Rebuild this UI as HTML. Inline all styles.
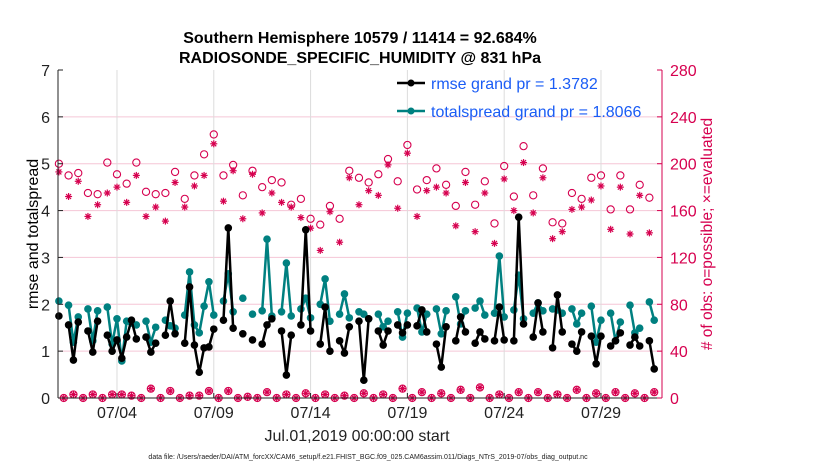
<!DOCTYPE html>
<html><head><meta charset="utf-8">
<style>
body{margin:0;background:#fff;}
svg{display:block;font-family:"Liberation Sans",Arial,sans-serif;}
</style></head>
<body>
<svg id="chart" width="830" height="470" viewBox="0 0 830 470" xmlns="http://www.w3.org/2000/svg">
<rect x="0" y="0" width="830" height="470" fill="#fff"/>
<text x="360" y="43" text-anchor="middle" font-size="16" font-weight="bold">Southern Hemisphere 10579 / 11414 = 92.684%</text>
<text x="360" y="63" text-anchor="middle" font-size="16" font-weight="bold">RADIOSONDE_SPECIFIC_HUMIDITY @ 831 hPa</text>
<g id="grid"></g>
<g id="marks"></g>
<g id="axes"></g>
<text transform="translate(38,234) rotate(-90)" text-anchor="middle" font-size="16">rmse and totalspread</text>
<text transform="translate(712,234) rotate(-90)" text-anchor="middle" font-size="15.5" fill="#d6004f"># of obs: o=possible; ×=evaluated</text>
<text x="357" y="441" text-anchor="middle" font-size="16" fill="#222">Jul.01,2019 00:00:00 start</text>
<text x="368" y="459" text-anchor="middle" font-size="7" fill="#222">data file: /Users/raeder/DAI/ATM_forcXX/CAM6_setup/f.e21.FHIST_BGC.f09_025.CAM6assim.011/Diags_NTrS_2019-07/obs_diag_output.nc</text>
<g id="legend">
<line x1="397" y1="83" x2="425" y2="83" stroke="#000" stroke-width="2.5"/>
<circle cx="411" cy="83" r="3.5" fill="#000"/>
<text x="431" y="89" font-size="16" fill="#1a5cf5">rmse grand pr = 1.3782</text>
<line x1="397" y1="111" x2="425" y2="111" stroke="#008080" stroke-width="2.5"/>
<circle cx="411" cy="111" r="3.5" fill="#008080"/>
<text x="431" y="117" font-size="16" fill="#1a5cf5">totalspread grand pr = 1.8066</text>
</g>
</svg>
<script>
// 6-hourly bins starting Jul 01 00Z
const rmse = [1.75,null,1.56,0.81,1.62,null,1.43,0.98,1.64,null,1.34,1.00,1.24,0.85,1.30,1.66,1.26,null,1.30,0.98,1.17,null,1.34,2.07,1.37,null,1.17,2.37,1.13,0.55,1.07,1.09,1.47,null,1.66,3.63,1.49,null,1.37,null,1.24,null,1.15,1.56,1.69,null,1.43,0.49,1.34,null,1.56,3.59,1.43,null,1.15,1.94,1.00,null,1.22,0.96,1.52,null,1.64,0.38,1.69,null,1.43,1.13,1.43,null,1.56,1.39,1.56,null,1.54,1.88,1.41,null,1.15,0.66,1.52,null,1.22,1.73,1.41,null,1.17,1.41,1.26,null,1.22,1.94,1.24,null,1.22,3.86,1.58,null,1.30,2.03,1.41,null,1.07,2.20,1.41,null,1.15,1.00,1.41,null,1.32,0.73,1.32,null,1.11,1.22,1.39,null,1.13,1.30,1.11,null,1.22,0.62];
const spread = [2.07,null,1.98,1.19,1.73,null,1.90,1.22,1.86,null,1.94,1.15,1.69,0.79,1.64,1.60,1.56,null,1.64,1.19,1.51,null,1.66,1.54,1.49,null,1.77,2.69,1.56,1.39,1.96,2.48,1.77,null,2.07,2.65,1.84,null,2.13,null,1.79,null,1.86,3.39,1.75,null,1.84,2.88,1.75,null,1.90,2.13,1.71,null,2.00,2.54,1.64,null,1.79,2.22,1.71,null,1.84,1.79,1.69,null,1.79,1.52,1.64,null,1.84,1.30,1.81,null,1.92,1.41,1.79,null,1.90,1.37,1.86,null,2.16,1.58,1.86,null,1.92,2.07,1.77,null,1.81,3.03,1.73,null,1.88,2.62,1.69,null,1.81,2.03,1.86,null,1.90,1.88,1.81,null,1.90,1.58,1.81,null,1.96,1.19,1.66,null,1.81,1.22,1.62,null,1.98,1.39,1.49,null,2.05,1.66];
const possible = [200,0,190,3,192,0,175,3,174,0,201,3,191,3,183,2,201,0,176,8,174,0,175,6,193,0,170,2,190,2,208,6,225,0,190,6,199,0,173,1,194,0,180,5,186,0,184,3,165,0,170,4,153,0,148,3,164,0,153,2,194,0,188,4,184,0,191,3,204,0,185,8,216,0,178,5,186,0,196,4,182,0,164,7,193,0,165,9,185,0,149,3,198,0,172,5,215,0,173,5,196,0,150,3,149,0,175,7,170,0,188,4,190,0,161,5,190,0,161,4,182,0,171,5];
const evaluated = [193,0,172,3,185,0,155,3,165,0,175,3,180,3,167,2,190,0,155,8,163,0,151,6,184,0,163,2,181,2,190,6,217,0,168,6,194,0,153,1,191,0,158,5,175,0,167,3,163,0,154,4,145,0,126,3,159,0,133,2,188,0,165,4,177,0,173,3,199,0,162,8,209,0,155,5,177,0,180,4,175,0,147,7,184,0,142,9,175,0,132,3,187,0,160,5,201,0,158,5,188,0,136,3,142,0,161,7,163,0,169,4,181,0,144,5,180,0,140,4,173,0,141,5];
const xTickLabels = ["07/04","07/09","07/14","07/19","07/24","07/29"];
const xTickDays = [3,8,13,18,23,28];
const leftTicks = [0,1,2,3,4,5,6,7];
const rightTicks = [0,40,80,120,160,200,240,280];

const NS="http://www.w3.org/2000/svg";
const L=58,R=662,T=70,B=398;
const xBin=i=>58.9+i*4.84;
const xDay=d=>58.9+d*19.36;
const yL=v=>B-(v/7)*(B-T);
const yR=v=>B-(v/280)*(B-T);
function mk(tag,attrs,parent){const e=document.createElementNS(NS,tag);for(const k in attrs)e.setAttribute(k,attrs[k]);parent.appendChild(e);return e;}
const grid=document.getElementById('grid'),marks=document.getElementById('marks'),axes=document.getElementById('axes');

rightTicks.forEach((t,i)=>{ if(t>0&&t<280){const g=mk('line',{x1:L,x2:R,y1:yR(t),y2:yR(t),stroke:'#f5c6d6','stroke-width':1},grid);

}});
xTickDays.forEach(d=>{const g=mk('line',{x1:xDay(d),x2:xDay(d),y1:T,y2:B,stroke:'#dcdcdc','stroke-width':1},grid);

});

function star(cx,cy,parent){const g=mk('g',{stroke:'#d6004f','stroke-width':1.2},parent);
for(let a=0;a<4;a++){const ang=a*Math.PI/4;mk('line',{x1:cx-3.5*Math.cos(ang),y1:cy-3.5*Math.sin(ang),x2:cx+3.5*Math.cos(ang),y2:cy+3.5*Math.sin(ang)},g);}return g;}
possible.forEach((v,i)=>{const c=mk('circle',{cx:xBin(i),cy:yR(v),r:3.6,fill:'none',stroke:'#d6004f','stroke-width':1.1},marks);

});
evaluated.forEach((v,i)=>{const s=star(xBin(i),yR(v),marks);

});

function series(arr,color,name){
  let seg=[];const segs=[];
  arr.forEach((v,i)=>{if(v===null){if(seg.length)segs.push(seg);seg=[];}else seg.push([xBin(i),yL(v)]);});
  if(seg.length)segs.push(seg);
  segs.forEach(s=>{const p=mk('polyline',{points:s.map(q=>q.join(',')).join(' '),fill:'none',stroke:color,'stroke-width':2.5,'stroke-linejoin':'round'},marks);
  
  });
  arr.forEach((v,i)=>{if(v!==null){const c=mk('circle',{cx:xBin(i),cy:yL(v),r:3.8,fill:color},marks);
  
  }});
}
series(spread,'#008080','totalspread');
series(rmse,'#000000','rmse');

const ax=mk('g',{},axes);
mk('line',{x1:L,y1:T,x2:L,y2:B,stroke:'#222','stroke-width':1},ax);
mk('line',{x1:L,y1:B,x2:R,y2:B,stroke:'#222','stroke-width':1},ax);
mk('line',{x1:R,y1:T,x2:R,y2:B,stroke:'#d6004f','stroke-width':1},ax);
leftTicks.forEach(t=>{mk('line',{x1:L,x2:L+5,y1:yL(t),y2:yL(t),stroke:'#222'},ax);
const tx=mk('text',{x:L-8,y:yL(t)+6,'text-anchor':'end','font-size':16,fill:'#222'},ax);tx.textContent=t;

});
rightTicks.forEach(t=>{mk('line',{x1:R-5,x2:R,y1:yR(t),y2:yR(t),stroke:'#d6004f'},ax);
const tx=mk('text',{x:R+8,y:yR(t)+6,'font-size':16,fill:'#d6004f'},ax);tx.textContent=t;

});
xTickDays.forEach((d,i)=>{mk('line',{x1:xDay(d),x2:xDay(d),y1:B,y2:B-5,stroke:'#222'},ax);
const tx=mk('text',{x:xDay(d),y:418,'text-anchor':'middle','font-size':16,fill:'#222'},ax);tx.textContent=xTickLabels[i];

});
</script>
</body></html>
